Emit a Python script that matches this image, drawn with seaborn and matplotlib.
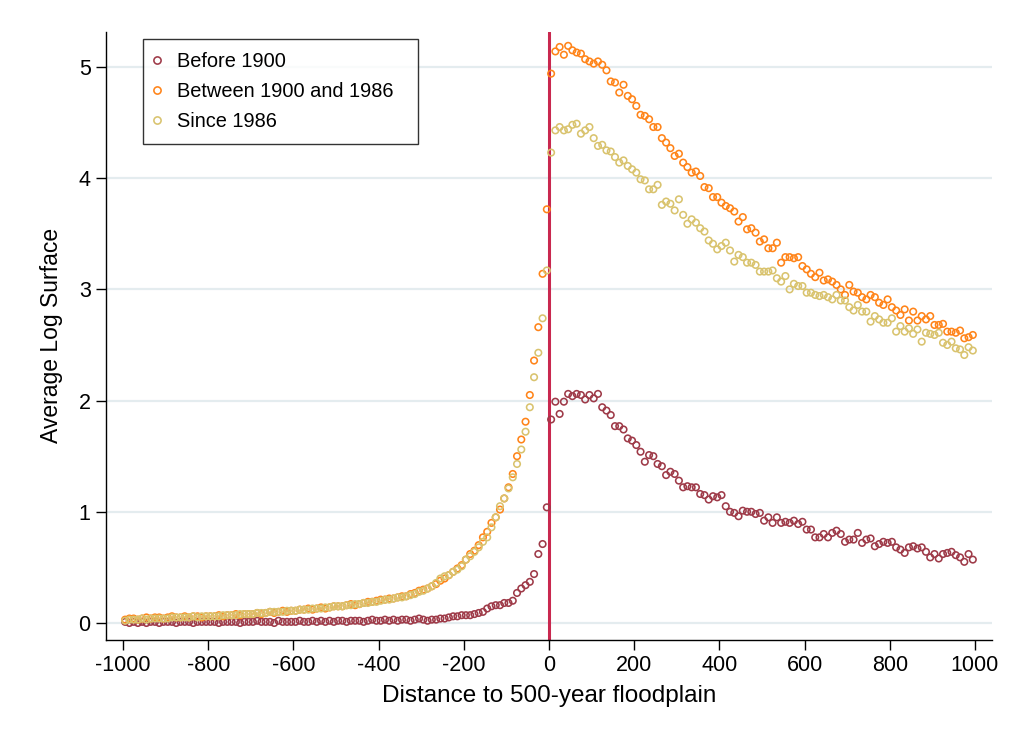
import numpy as np
import pandas as pd
import matplotlib
matplotlib.use("Agg")
import matplotlib.pyplot as plt
from matplotlib.lines import Line2D
import seaborn as sns

# distance bins (10-unit bins, centred), -995 ... 995
distance = np.arange(-995, 1000, 10)

# average log surface, left side (-995 .. -5) then right side (5 .. 995)
before_1900 = [
    0.01, 0.00, 0.01, 0.00, 0.01, 0.00, 0.01, 0.01, 0.00, 0.01,
    0.01, 0.01, 0.00, 0.01, 0.01, 0.01, 0.00, 0.01, 0.01, 0.01,
    0.01, 0.01, 0.00, 0.01, 0.01, 0.01, 0.01, 0.00, 0.01, 0.01,
    0.01, 0.02, 0.01, 0.01, 0.01, 0.00, 0.02, 0.01, 0.01, 0.01,
    0.01, 0.02, 0.01, 0.01, 0.02, 0.01, 0.02, 0.01, 0.02, 0.01,
    0.02, 0.02, 0.01, 0.02, 0.02, 0.02, 0.01, 0.02, 0.03, 0.02,
    0.02, 0.03, 0.02, 0.03, 0.02, 0.03, 0.03, 0.02, 0.03, 0.04,
    0.03, 0.02, 0.03, 0.03, 0.04, 0.04, 0.05, 0.06, 0.06, 0.07,
    0.07, 0.07, 0.08, 0.09, 0.10, 0.13, 0.15, 0.16, 0.16, 0.18,
    0.18, 0.20, 0.27, 0.31, 0.34, 0.37, 0.44, 0.62, 0.71, 1.04,
    1.83, 1.99, 1.88, 1.99, 2.06, 2.04, 2.06, 2.05, 2.01, 2.05,
    2.02, 2.06, 1.94, 1.91, 1.87, 1.77, 1.77, 1.74, 1.66, 1.64,
    1.60, 1.54, 1.45, 1.51, 1.50, 1.43, 1.41, 1.33, 1.36, 1.34,
    1.28, 1.22, 1.23, 1.22, 1.22, 1.16, 1.15, 1.11, 1.14, 1.13,
    1.15, 1.05, 1.00, 0.99, 0.96, 1.01, 1.00, 1.00, 0.98, 0.99,
    0.92, 0.95, 0.90, 0.95, 0.90, 0.91, 0.90, 0.92, 0.89, 0.91,
    0.84, 0.84, 0.77, 0.77, 0.80, 0.77, 0.81, 0.83, 0.80, 0.73,
    0.75, 0.75, 0.81, 0.72, 0.75, 0.76, 0.69, 0.71, 0.73, 0.72,
    0.73, 0.68, 0.66, 0.63, 0.68, 0.69, 0.67, 0.68, 0.64, 0.59,
    0.62, 0.58, 0.62, 0.63, 0.64, 0.61, 0.59, 0.55, 0.62, 0.57,
]

between_1900_1986 = [
    0.03, 0.04, 0.04, 0.03, 0.04, 0.05, 0.04, 0.05, 0.05, 0.04,
    0.05, 0.06, 0.05, 0.05, 0.06, 0.05, 0.06, 0.06, 0.05, 0.06,
    0.06, 0.06, 0.07, 0.06, 0.07, 0.07, 0.08, 0.07, 0.08, 0.08,
    0.08, 0.09, 0.08, 0.09, 0.10, 0.09, 0.10, 0.11, 0.10, 0.11,
    0.11, 0.12, 0.12, 0.13, 0.12, 0.13, 0.14, 0.13, 0.14, 0.15,
    0.15, 0.15, 0.16, 0.17, 0.16, 0.17, 0.18, 0.19, 0.19, 0.20,
    0.21, 0.21, 0.22, 0.22, 0.23, 0.24, 0.24, 0.26, 0.27, 0.29,
    0.30, 0.31, 0.33, 0.35, 0.38, 0.40, 0.43, 0.46, 0.49, 0.52,
    0.57, 0.62, 0.65, 0.70, 0.77, 0.82, 0.90, 0.95, 1.02, 1.12,
    1.22, 1.34, 1.50, 1.65, 1.81, 2.05, 2.36, 2.66, 3.14, 3.72,
    4.94, 5.14, 5.18, 5.11, 5.19, 5.15, 5.13, 5.12, 5.07, 5.05,
    5.03, 5.05, 5.02, 4.97, 4.87, 4.86, 4.77, 4.84, 4.74, 4.71,
    4.65, 4.57, 4.56, 4.53, 4.46, 4.46, 4.36, 4.32, 4.27, 4.20,
    4.22, 4.14, 4.10, 4.05, 4.06, 4.02, 3.92, 3.91, 3.83, 3.83,
    3.78, 3.75, 3.73, 3.70, 3.61, 3.65, 3.54, 3.55, 3.51, 3.43,
    3.45, 3.37, 3.37, 3.42, 3.24, 3.29, 3.29, 3.28, 3.29, 3.21,
    3.18, 3.14, 3.11, 3.15, 3.08, 3.09, 3.07, 3.04, 3.00, 2.95,
    3.04, 2.98, 2.97, 2.93, 2.91, 2.95, 2.93, 2.88, 2.86, 2.91,
    2.84, 2.81, 2.77, 2.82, 2.72, 2.80, 2.72, 2.76, 2.73, 2.76,
    2.68, 2.68, 2.69, 2.62, 2.62, 2.61, 2.63, 2.56, 2.57, 2.59,
]

since_1986 = [
    0.02, 0.03, 0.03, 0.03, 0.04, 0.03, 0.04, 0.04, 0.04, 0.04,
    0.04, 0.05, 0.05, 0.05, 0.05, 0.05, 0.06, 0.05, 0.06, 0.06,
    0.06, 0.06, 0.06, 0.07, 0.07, 0.07, 0.07, 0.08, 0.08, 0.08,
    0.08, 0.09, 0.09, 0.09, 0.10, 0.10, 0.10, 0.10, 0.11, 0.11,
    0.11, 0.12, 0.12, 0.12, 0.13, 0.13, 0.13, 0.14, 0.14, 0.15,
    0.15, 0.15, 0.16, 0.16, 0.17, 0.17, 0.18, 0.18, 0.19, 0.19,
    0.20, 0.21, 0.21, 0.22, 0.23, 0.23, 0.24, 0.25, 0.26, 0.28,
    0.29, 0.31, 0.33, 0.36, 0.40, 0.42, 0.43, 0.46, 0.48, 0.51,
    0.57, 0.60, 0.64, 0.68, 0.73, 0.77, 0.86, 0.95, 1.05, 1.12,
    1.21, 1.31, 1.43, 1.56, 1.72, 1.94, 2.21, 2.43, 2.74, 3.17,
    4.23, 4.43, 4.46, 4.43, 4.44, 4.48, 4.49, 4.40, 4.43, 4.46,
    4.36, 4.29, 4.30, 4.25, 4.24, 4.19, 4.14, 4.16, 4.11, 4.08,
    4.05, 3.99, 3.98, 3.90, 3.90, 3.94, 3.76, 3.79, 3.77, 3.71,
    3.81, 3.67, 3.59, 3.63, 3.60, 3.55, 3.52, 3.44, 3.41, 3.36,
    3.39, 3.42, 3.35, 3.25, 3.31, 3.29, 3.24, 3.24, 3.22, 3.16,
    3.16, 3.16, 3.17, 3.10, 3.07, 3.12, 3.00, 3.05, 3.03, 3.03,
    2.97, 2.97, 2.95, 2.94, 2.95, 2.93, 2.91, 2.95, 2.90, 2.90,
    2.84, 2.81, 2.86, 2.80, 2.80, 2.71, 2.76, 2.73, 2.70, 2.70,
    2.74, 2.62, 2.67, 2.62, 2.65, 2.60, 2.64, 2.53, 2.61, 2.60,
    2.59, 2.61, 2.52, 2.50, 2.53, 2.47, 2.46, 2.41, 2.48, 2.45,
]

periods = ["Before 1900", "Between 1900 and 1986", "Since 1986"]
colors = ["#9e3a48", "#ff8419", "#d9c36e"]
x_ticks = [-1000, -800, -600, -400, -200, 0, 200, 400, 600, 800, 1000]
y_ticks = [0, 1, 2, 3, 4, 5]

df = pd.DataFrame({
    "distance": distance,
    periods[0]: before_1900,
    periods[1]: between_1900_1986,
    periods[2]: since_1986,
})
long_df = df.melt(id_vars="distance", var_name="period", value_name="surface")

sns.set_style("white")
plt.rcParams["font.family"] = ["Liberation Sans", "DejaVu Sans"]
plt.rcParams.update({"text.color": "black", "axes.labelcolor": "black",
                     "xtick.color": "black", "ytick.color": "black"})

fig = plt.figure(figsize=(10.11, 7.38), dpi=100)
ax = fig.add_axes([0.1048, 0.1328, 0.8764, 0.8242])

# horizontal grid lines in light bluish gray
for yv in y_ticks:
    ax.axhline(yv, color="#e4ecef", lw=1.6, zorder=0)

ax.axvline(0, color="#c9284f", lw=2.2, zorder=1)

sns.scatterplot(data=long_df, x="distance", y="surface", hue="period",
                palette=dict(zip(periods, colors)), s=22, linewidth=1.15,
                legend=False, ax=ax, zorder=2)

# hollow circles like Stata's default "Oh" markers
pts = ax.collections[0]
fc = pts.get_facecolors()
pts.set_edgecolors(fc)
pts.set_facecolors("none")

ax.set_xlim(-1040, 1040)
ax.set_ylim(-0.153, 5.317)
ax.set_xticks(x_ticks)
ax.set_yticks(y_ticks)
ax.set_xticklabels([str(t) for t in x_ticks], fontsize=15.5)
ax.set_yticklabels([str(t) for t in y_ticks], fontsize=15.5)
ax.tick_params(axis="both", direction="out", length=7, width=1, color="black",
               bottom=True, left=True, pad=4)
ax.set_xlabel("Distance to 500-year floodplain", fontsize=17.5, labelpad=6)
ax.set_ylabel("Average Log Surface", fontsize=16.5, labelpad=11)

for side in ["top", "right"]:
    ax.spines[side].set_visible(False)
for side in ["left", "bottom"]:
    ax.spines[side].set_color("black")
    ax.spines[side].set_linewidth(1.0)

handles = [Line2D([], [], marker="o", linestyle="none", markersize=5.2,
                  markerfacecolor="none", markeredgecolor=c, markeredgewidth=1.15)
           for c in colors]
leg = ax.legend(handles, periods, loc="upper left",
                bbox_to_anchor=(0.0418, 0.5, 0.310, 0.488), mode="expand",
                fontsize=14.4, frameon=True, fancybox=False, handlelength=0.1,
                handletextpad=0.95, borderpad=0.65, labelspacing=0.56,
                borderaxespad=0)
leg.get_frame().set_edgecolor("black")
leg.get_frame().set_linewidth(1.0)

fig.savefig("out.png", dpi=100)
